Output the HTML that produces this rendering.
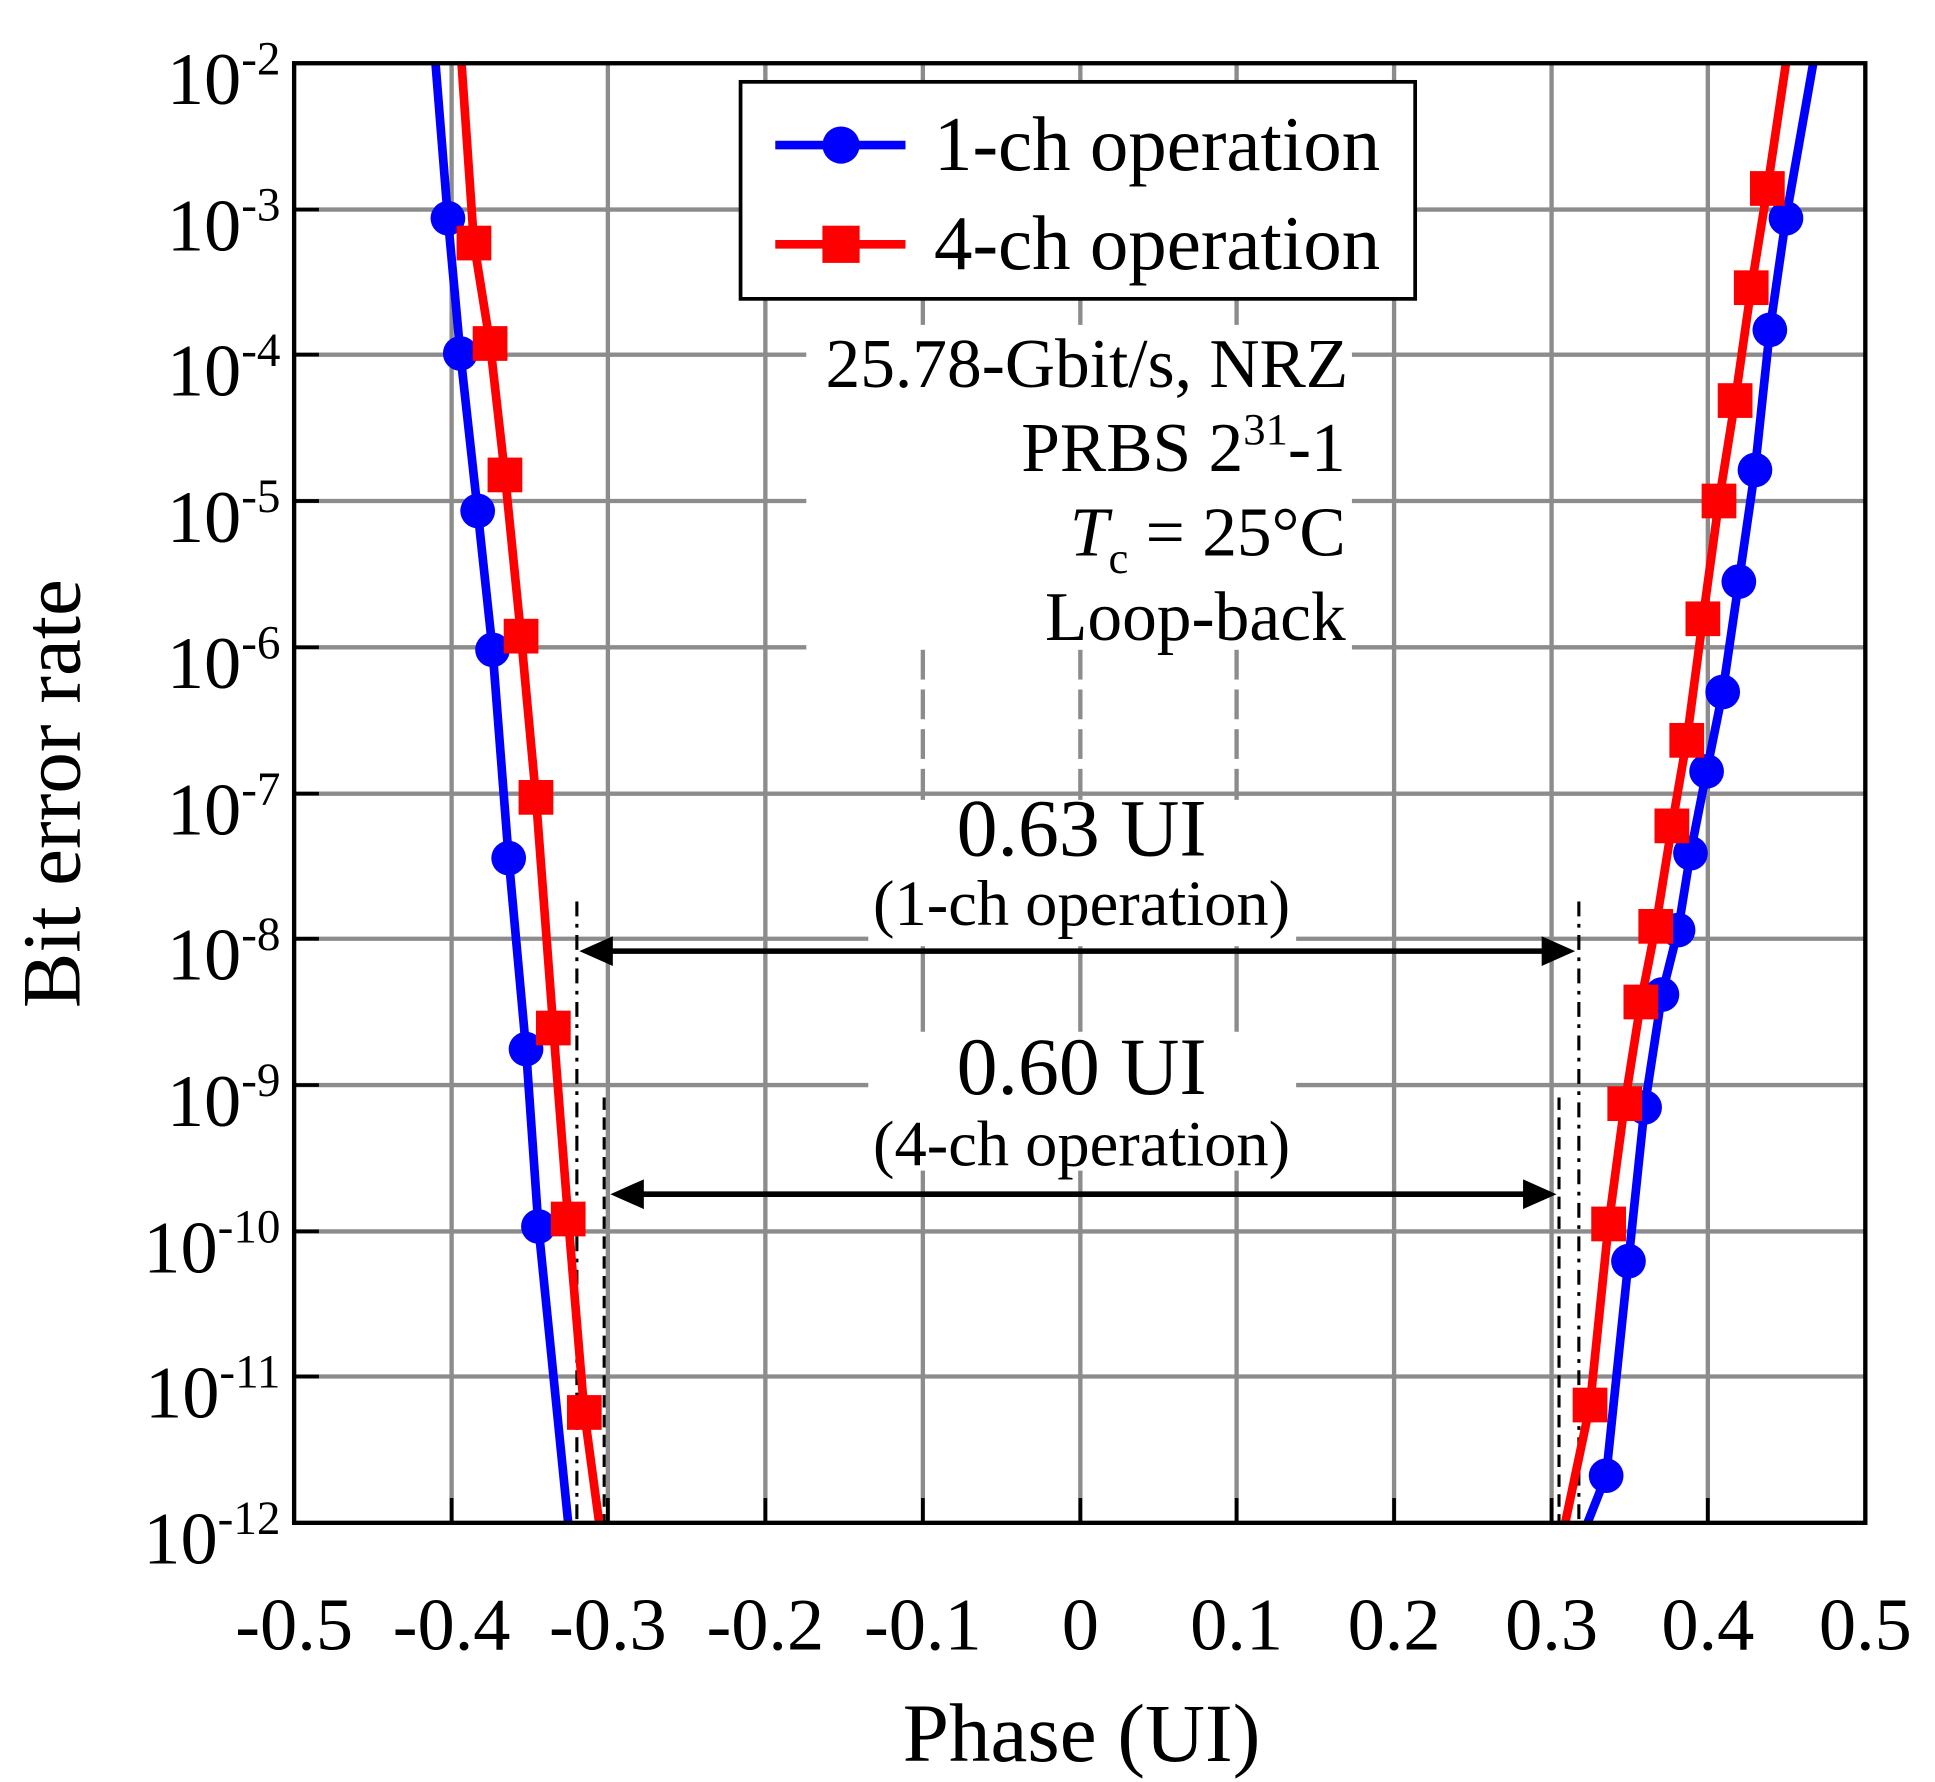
<!DOCTYPE html>
<html><head><meta charset="utf-8"><style>html,body{margin:0;padding:0;background:#fff}svg{display:block}</style></head><body>
<svg width="1935" height="1782" viewBox="0 0 1560 1437" xmlns="http://www.w3.org/2000/svg" font-family="Liberation Serif, serif">
<g stroke="#8c8c8c" stroke-width="3.5">
<line x1="364" y1="51" x2="364" y2="1228"/><line x1="490" y1="51" x2="490" y2="1228"/><line x1="617" y1="51" x2="617" y2="1228"/><line x1="744" y1="51" x2="744" y2="1228"/><line x1="871" y1="51" x2="871" y2="1228"/><line x1="997" y1="51" x2="997" y2="1228"/><line x1="1124" y1="51" x2="1124" y2="1228"/><line x1="1251" y1="51" x2="1251" y2="1228"/><line x1="1377" y1="51" x2="1377" y2="1228"/>
<line x1="237" y1="169" x2="1504" y2="169"/><line x1="237" y1="286" x2="1504" y2="286"/><line x1="237" y1="404" x2="1504" y2="404"/><line x1="237" y1="522" x2="1504" y2="522"/><line x1="237" y1="640" x2="1504" y2="640"/><line x1="237" y1="757" x2="1504" y2="757"/><line x1="237" y1="875" x2="1504" y2="875"/><line x1="237" y1="993" x2="1504" y2="993"/><line x1="237" y1="1110" x2="1504" y2="1110"/>
</g>
<g fill="#fff">
<rect x="650" y="262" width="440" height="262"/>
<rect x="700" y="645" width="345" height="118"/>
<rect x="700" y="832" width="345" height="112"/>
<rect x="730" y="548" width="290" height="8"/><rect x="730" y="580" width="290" height="8"/><rect x="730" y="612" width="290" height="8"/>
</g>
<g stroke="#000" stroke-width="3">
<line x1="237" y1="169" x2="257" y2="169"/><line x1="237" y1="286" x2="257" y2="286"/><line x1="237" y1="404" x2="257" y2="404"/><line x1="237" y1="522" x2="257" y2="522"/><line x1="237" y1="640" x2="257" y2="640"/><line x1="237" y1="757" x2="257" y2="757"/><line x1="237" y1="875" x2="257" y2="875"/><line x1="237" y1="993" x2="257" y2="993"/><line x1="237" y1="1110" x2="257" y2="1110"/>
<line x1="364" y1="1228" x2="364" y2="1208"/><line x1="490" y1="1228" x2="490" y2="1208"/><line x1="617" y1="1228" x2="617" y2="1208"/><line x1="744" y1="1228" x2="744" y2="1208"/><line x1="871" y1="1228" x2="871" y2="1208"/><line x1="997" y1="1228" x2="997" y2="1208"/><line x1="1124" y1="1228" x2="1124" y2="1208"/><line x1="1251" y1="1228" x2="1251" y2="1208"/><line x1="1377" y1="1228" x2="1377" y2="1208"/>
</g>
<g stroke="#000" stroke-width="2.5">
<line x1="465" y1="727" x2="465" y2="1228" stroke-dasharray="12,6,3,6"/>
<line x1="1273" y1="727" x2="1273" y2="1228" stroke-dasharray="12,6,3,6"/>
<line x1="487" y1="885" x2="487" y2="1228" stroke-dasharray="10,6"/>
<line x1="1257" y1="885" x2="1257" y2="1228" stroke-dasharray="10,6"/>
</g>
<g stroke="#000" stroke-width="4.5" fill="#000">
<line x1="485" y1="767" x2="1252" y2="767"/>
<polygon points="467,767 494,755 494,779" stroke="none"/><polygon points="1270,767 1243,755 1243,779" stroke="none"/>
<line x1="510" y1="963" x2="1237" y2="963"/>
<polygon points="492,963 519,951 519,975" stroke="none"/><polygon points="1255,963 1228,951 1228,975" stroke="none"/>
</g>
<g fill="none" stroke-width="7" stroke-linejoin="round">
<polyline stroke="#0000ff" points="351,51 361,176 371,285 385,412 397,524 410,692 424,846 434,989 458,1228"/>
<polyline stroke="#ff0000" points="372,51 382,196 395,277 407,383 420,513 432,643 446,829 458,983 471,1139 483,1228"/>
<polyline stroke="#0000ff" points="1462,51 1440,176 1427,266 1415,379 1402,469 1389,558 1376,622 1363,688 1353,750 1340,802 1326,893 1313,1017 1295,1190 1280,1228"/>
<polyline stroke="#ff0000" points="1440,51 1425,152 1412,232 1399,323 1386,404 1373,499 1360,597 1348,666 1335,747 1323,808 1310,890 1297,987 1282,1133 1262,1228"/>
</g>
<g fill="#0000ff">
<circle cx="361" cy="176" r="14"/><circle cx="371" cy="285" r="14"/><circle cx="385" cy="412" r="14"/><circle cx="397" cy="524" r="14"/><circle cx="410" cy="692" r="14"/><circle cx="424" cy="846" r="14"/><circle cx="434" cy="989" r="14"/>
<circle cx="1440" cy="176" r="14"/><circle cx="1427" cy="266" r="14"/><circle cx="1415" cy="379" r="14"/><circle cx="1402" cy="469" r="14"/><circle cx="1389" cy="558" r="14"/><circle cx="1376" cy="622" r="14"/><circle cx="1363" cy="688" r="14"/><circle cx="1353" cy="750" r="14"/><circle cx="1340" cy="802" r="14"/><circle cx="1326" cy="893" r="14"/><circle cx="1313" cy="1017" r="14"/><circle cx="1295" cy="1190" r="14"/>
</g>
<g fill="#ff0000">
<rect x="368" y="182" width="28" height="28"/><rect x="381" y="263" width="28" height="28"/><rect x="393" y="369" width="28" height="28"/><rect x="406" y="499" width="28" height="28"/><rect x="418" y="629" width="28" height="28"/><rect x="432" y="815" width="28" height="28"/><rect x="444" y="969" width="28" height="28"/><rect x="457" y="1125" width="28" height="28"/>
<rect x="1411" y="138" width="28" height="28"/><rect x="1398" y="218" width="28" height="28"/><rect x="1385" y="309" width="28" height="28"/><rect x="1372" y="390" width="28" height="28"/><rect x="1359" y="485" width="28" height="28"/><rect x="1346" y="583" width="28" height="28"/><rect x="1334" y="652" width="28" height="28"/><rect x="1321" y="733" width="28" height="28"/><rect x="1309" y="794" width="28" height="28"/><rect x="1296" y="876" width="28" height="28"/><rect x="1283" y="973" width="28" height="28"/><rect x="1268" y="1119" width="28" height="28"/>
</g>
<rect x="237" y="51" width="1267" height="1177" fill="none" stroke="#000" stroke-width="3.5"/>
<rect x="597" y="66" width="544" height="175" fill="#fff" stroke="#000" stroke-width="3"/>
<line x1="625" y1="117" x2="730" y2="117" stroke="#0000ff" stroke-width="7"/><circle cx="678" cy="117" r="15" fill="#0000ff"/>
<line x1="625" y1="197" x2="730" y2="197" stroke="#ff0000" stroke-width="7"/><rect x="663" y="182" width="30" height="30" fill="#ff0000"/>
<g font-size="62" fill="#000"><text x="753" y="137">1-ch operation</text><text x="753" y="217">4-ch operation</text></g>
<g font-size="56" fill="#000" text-anchor="end">
<text x="1087" y="312">25.78-Gbit/s, NRZ</text>
<text x="1085" y="380">PRBS 2<tspan font-size="36" dy="-22">31</tspan><tspan dy="22">-1</tspan></text>
<text x="1085" y="448"><tspan font-style="italic">T</tspan><tspan font-size="36" dy="14">c</tspan><tspan dy="-14"> = 25°C</tspan></text>
<text x="1085" y="516">Loop-back</text>
</g>
<g fill="#000" text-anchor="middle">
<text x="872" y="690" font-size="66">0.63 UI</text>
<text x="872" y="746" font-size="52">(1-ch operation)</text>
<text x="872" y="882" font-size="66">0.60 UI</text>
<text x="872" y="940" font-size="52">(4-ch operation)</text>
</g>
<g font-size="60" fill="#000" text-anchor="end">
<text x="226" y="84">10<tspan font-size="38" dy="-24">-2</tspan></text>
<text x="226" y="202">10<tspan font-size="38" dy="-24">-3</tspan></text>
<text x="226" y="319">10<tspan font-size="38" dy="-24">-4</tspan></text>
<text x="226" y="437">10<tspan font-size="38" dy="-24">-5</tspan></text>
<text x="226" y="555">10<tspan font-size="38" dy="-24">-6</tspan></text>
<text x="226" y="673">10<tspan font-size="38" dy="-24">-7</tspan></text>
<text x="226" y="790">10<tspan font-size="38" dy="-24">-8</tspan></text>
<text x="226" y="908">10<tspan font-size="38" dy="-24">-9</tspan></text>
<text x="226" y="1026">10<tspan font-size="38" dy="-24">-10</tspan></text>
<text x="226" y="1143">10<tspan font-size="38" dy="-24">-11</tspan></text>
<text x="226" y="1261">10<tspan font-size="38" dy="-24">-12</tspan></text>
</g>
<g font-size="60" fill="#000" text-anchor="middle">
<text x="237" y="1330">-0.5</text><text x="364" y="1330">-0.4</text><text x="490" y="1330">-0.3</text><text x="617" y="1330">-0.2</text><text x="744" y="1330">-0.1</text><text x="871" y="1330">0</text><text x="997" y="1330">0.1</text><text x="1124" y="1330">0.2</text><text x="1251" y="1330">0.3</text><text x="1377" y="1330">0.4</text><text x="1504" y="1330">0.5</text>
</g>
<text x="872" y="1420" font-size="67" text-anchor="middle">Phase (UI)</text>
<text transform="translate(64,640) rotate(-90)" font-size="67" text-anchor="middle">Bit error rate</text>
</svg>
</body></html>
